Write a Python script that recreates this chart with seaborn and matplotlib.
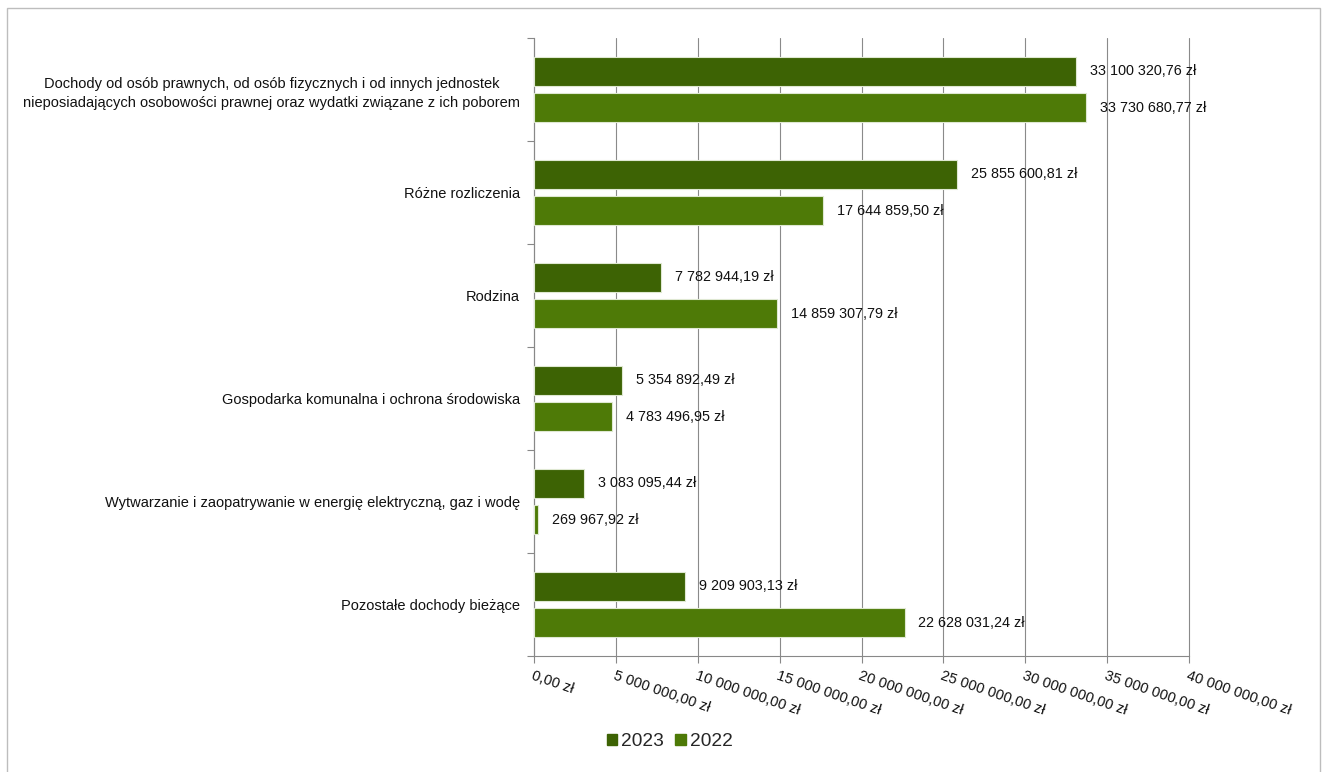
import pandas as pd
import numpy as np
import matplotlib.pyplot as plt
import matplotlib.patches as mpatches
import seaborn as sns

kategorie = [
    "Dochody od osób prawnych, od osób fizycznych i od innych jednostek\nnieposiadających osobowości prawnej oraz wydatki związane z ich poborem",
    "Różne rozliczenia",
    "Rodzina",
    "Gospodarka komunalna i ochrona środowiska",
    "Wytwarzanie i zaopatrywanie w energię elektryczną, gaz i wodę",
    "Pozostałe dochody bieżące",
]
kwoty_2023 = [33100320.76, 25855600.81, 7782944.19, 5354892.49, 3083095.44, 9209903.13]
kwoty_2022 = [33730680.77, 17644859.50, 14859307.79, 4783496.95, 269967.92, 22628031.24]
lata = ["2023", "2022"]
kolory = {"2023": "#3d6304", "2022": "#4e7a07"}
x_ticks = [0, 5e6, 10e6, 15e6, 20e6, 25e6, 30e6, 35e6, 40e6]


def zl(v):
    s = f"{v:,.2f}".replace(",", " ").replace(".", ",")
    return s + " zł"


df = pd.DataFrame({
    "kategoria": kategorie * 2,
    "kwota": kwoty_2023 + kwoty_2022,
    "rok": ["2023"] * len(kategorie) + ["2022"] * len(kategorie),
})

sns.set_theme(style="white")
plt.rcParams['font.family'] = ['Liberation Sans', 'DejaVu Sans']

fig = plt.figure(figsize=(13.26, 7.72), dpi=100)
ax = fig.add_axes([534 / 1326, 1 - 656 / 772, (1189 - 534) / 1326, (656 - 38) / 772])

sns.barplot(data=df, y="kategoria", x="kwota", hue="rok", hue_order=lata,
            palette=kolory, saturation=1, orient="h", width=0.7, gap=0.22, ax=ax,
            edgecolor="#dfe8d2", linewidth=0.8, legend=False, zorder=3)

for cont, lab in zip(ax.containers, [kwoty_2023, kwoty_2022]):
    ax.bar_label(cont, labels=[zl(v) for v in lab], padding=10, fontsize=10.4, color="#111111")

ax.set_xlim(0, 40e6)
ax.set_ylim(5.5, -0.5)
ax.set_xticks(x_ticks)
ax.set_xticklabels([zl(v) for v in x_ticks], rotation=-19, ha="left", va="top",
                   rotation_mode="anchor", fontsize=10.5, color="#111111")
ax.set_yticks(range(len(kategorie)))
ax.set_yticklabels(kategorie, fontsize=10.5, color="#111111")
for t in ax.get_yticklabels():
    t.set_multialignment("center")
    t.set_linespacing(1.5)
ax.set_yticks(np.arange(-0.5, len(kategorie), 1.0), minor=True)
ax.tick_params(axis="y", which="major", length=0, pad=10)
ax.tick_params(axis="y", which="minor", length=5, color="#888888", width=0.8, left=True)
ax.tick_params(axis="x", length=5, color="#888888", width=0.8, bottom=True, pad=4)

ax.grid(axis="x", color="#8a8a8a", linewidth=0.8, zorder=0)
for gl in ax.get_xgridlines():
    gl.set_clip_on(False)
ax.set_axisbelow(True)
for s in ["top", "right"]:
    ax.spines[s].set_visible(False)
for s in ["left", "bottom"]:
    ax.spines[s].set_color("#888888")
    ax.spines[s].set_linewidth(0.8)
ax.set_xlabel("")
ax.set_ylabel("")

uchwyty = [mpatches.Patch(color=kolory[r], label=r) for r in lata]
fig.legend(handles=uchwyty, loc="center", bbox_to_anchor=(0.505, 0.039), ncol=2,
           frameon=False, fontsize=13.8, handlelength=0.55, handleheight=0.55,
           handletextpad=0.2, columnspacing=0.6)

fig.patches.append(mpatches.Rectangle((7 / 1326, -0.01), (1320 - 7) / 1326, 1.01 - 8 / 772,
                                      transform=fig.transFigure, fill=False,
                                      edgecolor="#bdbdbd", linewidth=1))

fig.savefig("out.png", dpi=100)
